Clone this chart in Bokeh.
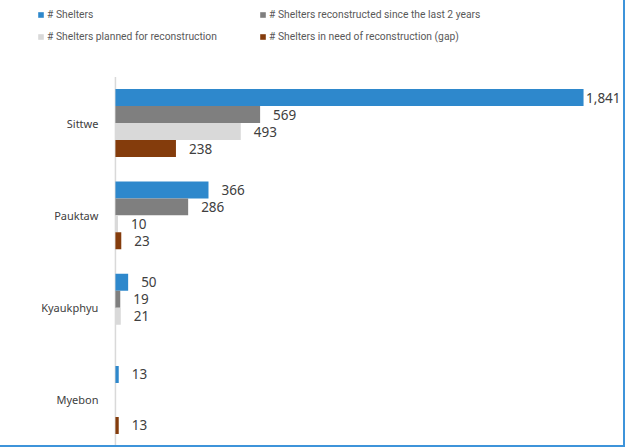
from bokeh.plotting import figure
from bokeh.models import (ColumnDataSource, Range1d, Legend, LegendItem, LinearAxis,
                          FixedTicker)
from bokeh.core.properties import value
from bokeh.embed import file_html
from bokeh.resources import INLINE

categories = ["Sittwe", "Pauktaw", "Kyaukphyu", "Myebon"]
shelters = [1841, 366, 50, 13]
reconstructed = [569, 286, 19, None]
planned = [493, 10, 21, None]
gap = [238, 23, None, 13]

series_names = [
    "# Shelters",
    "# Shelters reconstructed since the last 2 years",
    "# Shelters planned for reconstruction",
    "# Shelters in need of reconstruction (gap)",
]
series_values = [shelters, reconstructed, planned, gap]
colors = ["#2E88CC", "#7F7F7F", "#D9D9D9", "#843C0C"]
offsets = [0.276, 0.092, -0.092, -0.276]
bar_height = 0.184

FONT = "Noto Sans"
W, H = 625, 447
n = len(categories)
# category i (from top) sits at y = n-1-i
cat_pos = {c: n - 1 - i for i, c in enumerate(categories)}

p = figure(
    width=W, height=H,
    x_range=Range1d(-452, 2006), y_range=Range1d(-0.515, n - 1 + 1.328),
    x_axis_location=None, y_axis_location=None,
    output_backend="svg", toolbar_location=None,
    min_border=0,
)
p.outline_line_color = None
p.xgrid.visible = False
p.ygrid.visible = False
p.styles = {"border-right": "2px solid #3D94DA", "border-bottom": "2px solid #3D94DA"}

yax = LinearAxis(fixed_location=0,
                 ticker=FixedTicker(ticks=list(cat_pos.values())),
                 major_label_overrides={v: c for c, v in cat_pos.items()})
yax.axis_line_color = None
yax.major_tick_line_color = None
yax.minor_tick_line_color = None
yax.major_label_standoff = 11
yax.major_label_text_font = FONT
yax.major_label_text_font_size = "11px"
yax.major_label_text_color = "#404040"
p.add_layout(yax, "left")

# category axis line spanning the category bands
p.segment(x0=[0], x1=[0], y0=[-0.5], y1=[n - 0.5], line_color="#D9D9D9", line_width=1.5)

renderers = []
for name, vals, col, off in zip(series_names, series_values, colors, offsets):
    cats = [c for c, v in zip(categories, vals) if v is not None]
    vs = [v for v in vals if v is not None]
    ys = [cat_pos[c] + off for c in cats]
    labels = [f"{v:,}" for v in vs]
    xo = [2.5 if v > 1800 else 13 for v in vs]
    src = ColumnDataSource(dict(y=ys, v=vs, label=labels, xo=xo))
    r = p.hbar(y="y", right="v", left=0, height=bar_height,
               source=src, fill_color=col, line_color=None)
    p.text(x="v", y="y", text="label", x_offset="xo",
           source=src, text_baseline="middle", text_align="left",
           text_font=value(FONT), text_font_size="13.5px", text_color="#404040")
    renderers.append(r)

def make_legend(idx, loc):
    leg = Legend(items=[LegendItem(label=series_names[i], renderers=[renderers[i]]) for i in idx],
                 location=loc, orientation="vertical",
                 glyph_width=7, glyph_height=7, label_standoff=3,
                 label_text_font="Roboto", label_text_font_size="10.3px",
                 label_text_color="#595959", label_height=14, spacing=8,
                 padding=0, margin=0, border_line_color=None,
                 background_fill_alpha=0)
    p.add_layout(leg)

make_legend([0, 2], (37, 404))
make_legend([1, 3], (259, 404))

open("out.html", "w").write(file_html(p, INLINE))
